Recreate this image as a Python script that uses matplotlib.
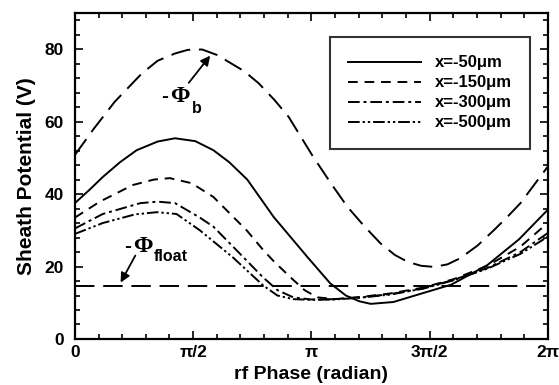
import matplotlib
matplotlib.use("Agg")
import matplotlib.pyplot as plt
from matplotlib.ticker import MultipleLocator
import numpy as np

plt.rcParams["font.family"] = ["Liberation Sans", "DejaVu Sans"]
plt.rcParams["font.weight"] = "bold"

# values (phase in radian, potential in V)
x50 = [0, 0.2, 0.37, 0.6, 0.82, 1.1, 1.33, 1.6, 1.84, 2.05, 2.29, 2.64, 3.09,
       3.39, 3.6, 3.78, 3.93, 4.23, 4.63, 5.0, 5.48, 5.9, 6.28]
v50 = [37.5, 41.3, 44.7, 48.8, 52.1, 54.5, 55.4, 54.6, 52.1, 48.8, 44.0, 33.7,
       22.6, 15.4, 12.0, 10.4, 9.7, 10.2, 12.7, 15.0, 20.4, 27.5, 35.6]

x150 = [0, 0.33, 0.77, 1.05, 1.26, 1.55, 1.84, 2.29, 2.5, 2.64, 2.86, 3.05,
        3.22, 3.45, 3.8, 4.2, 4.63, 5.03, 5.48, 5.92, 6.28]
v150 = [33.5, 37.9, 42.5, 44.0, 44.4, 43.0, 39.2, 29.8, 24.6, 21.5, 17.1, 13.5,
        11.5, 11.0, 11.6, 12.6, 14.2, 16.5, 20.2, 25.5, 32.0]

x300 = [0, 0.37, 0.87, 1.1, 1.33, 1.66, 1.84, 2.1, 2.5, 2.69, 2.9, 3.14, 3.45,
        3.8, 4.2, 4.63, 5.03, 5.48, 5.92, 6.28]
v300 = [30.5, 34.5, 37.5, 37.9, 37.5, 33.5, 31.0, 25.5, 17.0, 13.5, 11.5, 10.9,
        11.0, 11.5, 12.4, 14.0, 16.3, 19.6, 24.0, 29.2]

x500 = [0, 0.37, 0.8, 1.09, 1.35, 1.66, 2.1, 2.5, 2.69, 2.9, 3.14, 3.45, 3.8,
        4.2, 4.63, 5.03, 5.48, 5.92, 6.28]
v500 = [29.0, 32.0, 34.4, 35.0, 34.5, 30.0, 22.5, 14.8, 12.0, 11.0, 10.8, 10.9,
        11.4, 12.3, 13.9, 16.2, 19.4, 23.5, 28.2]

xb = [0, 0.25, 0.53, 0.89, 1.1, 1.33, 1.5, 1.69, 1.9, 2.04, 2.25, 2.44, 2.65,
      2.84, 3.15, 3.4, 3.62, 3.85, 4.06, 4.25, 4.42, 4.6, 4.77, 4.95, 5.12,
      5.35, 5.57, 5.75, 5.92, 6.1, 6.28]
vb = [50.8, 58.0, 65.5, 73.3, 76.8, 78.8, 79.8, 79.9, 78.3, 76.5, 73.9, 70.6,
      66.0, 61.3, 50.8, 43.0, 36.5, 31.0, 26.4, 23.2, 21.3, 20.2, 19.9, 20.6,
      22.3, 25.8, 30.1, 33.8, 37.5, 42.5, 47.5]

x_float = [0, 2 * np.pi]
v_float = [14.5, 14.5]

labels = ["x=-50\u03bcm", "x=-150\u03bcm", "x=-300\u03bcm", "x=-500\u03bcm"]

fig = plt.figure(figsize=(5.59, 3.85), dpi=100)
ax = fig.add_axes([0.134, 0.1195, 0.846, 0.847])

lw = 1.4
ax.plot(x50, v50, color="black", lw=lw, label=labels[0])
ax.plot(x150, v150, color="black", lw=lw, dashes=(5, 3.5), label=labels[1])
ax.plot(x300, v300, color="black", lw=lw, dashes=(6, 2, 1.5, 2), label=labels[2])
ax.plot(x500, v500, color="black", lw=lw, dashes=(6, 1.5, 1.2, 1.5, 1.2, 1.5),
        label=labels[3])
ax.plot(xb, vb, color="black", lw=lw, dashes=(10, 4.5))
ax.plot(x_float, v_float, color="black", lw=lw, dashes=(10, 4.5))

ax.set_xlim(0, 2 * np.pi)
ax.set_ylim(0, 90)
ax.set_xticks([0, np.pi / 2, np.pi, 3 * np.pi / 2, 2 * np.pi])
ax.set_xticklabels(["0", "\u03c0/2", "\u03c0", "3\u03c0/2", "2\u03c0"])
ax.xaxis.set_minor_locator(MultipleLocator(np.pi / 10))
ax.set_yticks([0, 20, 40, 60, 80])
ax.yaxis.set_minor_locator(MultipleLocator(4))
ax.tick_params(which="both", direction="in", top=True, right=True,
               labelsize=12.5, width=1.2)
ax.tick_params(which="major", length=6)
ax.tick_params(which="minor", length=3.5)
ax.tick_params(axis="y", pad=8)
ax.tick_params(axis="x", pad=4)
for s in ax.spines.values():
    s.set_linewidth(1.6)

ax.set_xlabel("rf Phase (radian)", fontsize=14, fontweight="bold", labelpad=5)
ax.set_ylabel("Sheath Potential (V)", fontsize=15, fontweight="bold", labelpad=6)

leg = ax.legend(loc="upper right", bbox_to_anchor=(0.962, 0.926), fontsize=12,
                frameon=True, fancybox=False, borderpad=1.1, handlelength=4.4,
                handletextpad=0.8, labelspacing=0.3, borderaxespad=0)
leg.get_frame().set_edgecolor("black")
leg.get_frame().set_linewidth(1.5)

# -Phi_b label and arrow
ax.annotate("", xy=(1.82, 78.8), xytext=(1.49, 70.1),
            arrowprops=dict(arrowstyle="-|>", color="black", lw=1.3,
                            mutation_scale=14))
ax.text(1.14, 66.8, "-", fontsize=15, va="center", ha="left")
ax.text(1.26, 66.8, "\u03a6", fontsize=17, va="center", ha="left",
        family="Liberation Serif", fontweight="bold")
ax.text(1.55, 63.5, "b", fontsize=11.5, va="center", ha="left")

# -Phi_float label and arrow
ax.annotate("", xy=(0.59, 14.9), xytext=(0.82, 23.7),
            arrowprops=dict(arrowstyle="-|>", color="black", lw=1.3,
                            mutation_scale=14))
ax.text(0.65, 25.4, "-", fontsize=15, va="center", ha="left")
ax.text(0.77, 25.4, "\u03a6", fontsize=17, va="center", ha="left",
        family="Liberation Serif", fontweight="bold")
ax.text(1.05, 22.8, "float", fontsize=11.5, va="center", ha="left")

fig.savefig("out.png", dpi=100)
